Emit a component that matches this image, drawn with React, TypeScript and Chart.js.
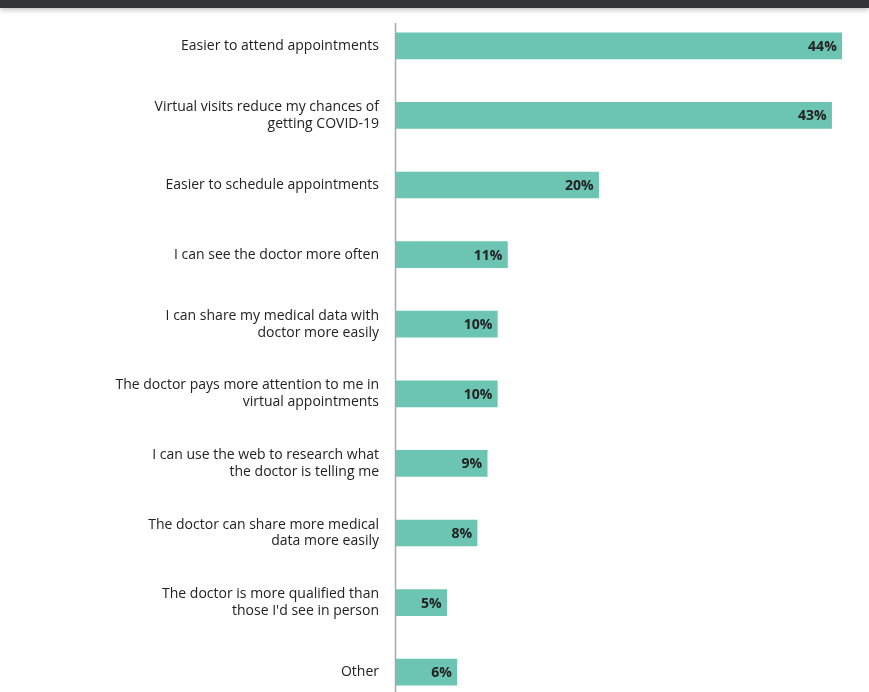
import { useEffect, useRef } from "react";
import { Chart, registerables } from "chart.js";
Chart.register(...registerables);

const categories: (string | string[])[] = [
  "Easier to attend appointments",
  ["Virtual visits reduce my chances of", "getting COVID-19"],
  "Easier to schedule appointments",
  "I can see the doctor more often",
  ["I can share my medical data with", "doctor more easily"],
  ["The doctor pays more attention to me in", "virtual appointments"],
  ["I can use the web to research what", "the doctor is telling me"],
  ["The doctor can share more medical", "data more easily"],
  ["The doctor is more qualified than", "those I'd see in person"],
  "Other",
];
const shares = [44, 43, 20, 11, 10, 10, 9, 8, 5, 6];

const FONT = "'Open Sans', 'Noto Sans', sans-serif";

const valueLabels = {
  id: "valueLabels",
  afterDatasetsDraw(chart: any) {
    const ctx = chart.ctx;
    const meta = chart.getDatasetMeta(0);
    ctx.save();
    ctx.font = `bold 14px ${FONT}`;
    ctx.fillStyle = "#222";
    ctx.textAlign = "right";
    ctx.textBaseline = "middle";
    meta.data.forEach((bar: any, i: number) => {
      ctx.fillText(`${shares[i]}%`, bar.x - 5, bar.y + 1);
    });
    ctx.restore();
  },
};

const axisLine = {
  id: "axisLine",
  afterDraw(chart: any) {
    const { ctx, chartArea } = chart;
    ctx.save();
    ctx.strokeStyle = "#a8a8a8";
    ctx.lineWidth = 1.5;
    ctx.beginPath();
    ctx.moveTo(chartArea.left - 0.5, 23);
    ctx.lineTo(chartArea.left - 0.5, chartArea.bottom);
    ctx.stroke();
    ctx.restore();
  },
};

export default function App() {
  const canvasRef = useRef<HTMLCanvasElement>(null);

  useEffect(() => {
    if (!canvasRef.current) return;
    const chart = new Chart(canvasRef.current, {
      type: "bar",
      data: {
        labels: categories,
        datasets: [
          {
            data: shares,
            backgroundColor: "#6cc4b2",
            borderWidth: 0,
            barThickness: 26,
          },
        ],
      },
      options: {
        indexAxis: "y",
        animation: false,
        responsive: true,
        maintainAspectRatio: false,
        layout: { padding: { top: 11, bottom: 13, right: 7, left: 0 } },
        plugins: { legend: { display: false }, tooltip: { enabled: false } },
        scales: {
          x: { display: false, min: 0, max: 46 },
          y: {
            grid: { display: false, drawTicks: false },
            border: { display: false },
            afterFit: (s: any) => {
              s.width = 396;
              s.paddingTop = 0;
              s.paddingBottom = 0;
            },
            ticks: {
              padding: 17,
              color: "#222",
              font: { family: FONT, size: 14, lineHeight: 1.2 },
            },
          },
        },
      },
      plugins: [valueLabels, axisLine],
    });
    return () => chart.destroy();
  }, []);

  return (
    <div
      style={{
        position: "fixed",
        top: 0,
        left: 0,
        width: 869,
        height: 692,
        overflow: "hidden",
        background: "#fff",
      }}
    >
      <div style={{ position: "absolute", top: 0, left: 0, width: 869, height: 720 }}>
        <canvas ref={canvasRef} />
      </div>
      <div
        style={{
          position: "absolute",
          top: 0,
          left: 0,
          width: 869,
          height: 8,
          background: "#323639",
          boxShadow: "0 2px 5px rgba(0,0,0,0.25)",
        }}
      />
    </div>
  );
}
